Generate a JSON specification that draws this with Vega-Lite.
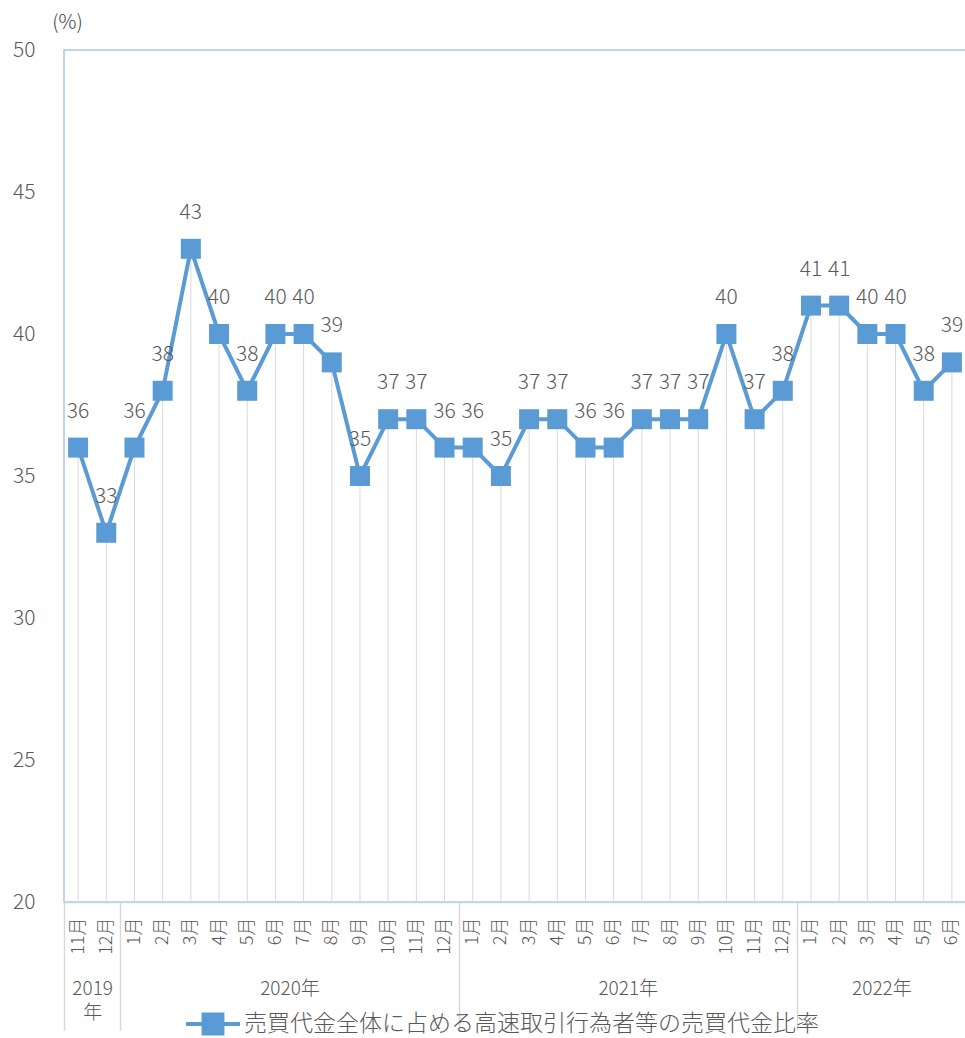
{
  "$schema": "https://vega.github.io/schema/vega-lite/v6.json",
  "width": 902,
  "height": 852,
  "autosize": "none",
  "padding": {"left": 64, "top": 50, "right": 0, "bottom": 136},
  "background": "white",
  "config": {
    "font": "Noto Sans CJK JP",
    "view": {"stroke": "#a9c8ea", "strokeWidth": 1.5},
    "axis": {"labelFontWeight": 300},
    "legend": {"labelFontWeight": 300}
  },
  "data": {
    "values": [
      {"i": 0, "period": "2019-11", "value": 36},
      {"i": 1, "period": "2019-12", "value": 33},
      {"i": 2, "period": "2020-01", "value": 36},
      {"i": 3, "period": "2020-02", "value": 38},
      {"i": 4, "period": "2020-03", "value": 43},
      {"i": 5, "period": "2020-04", "value": 40},
      {"i": 6, "period": "2020-05", "value": 38},
      {"i": 7, "period": "2020-06", "value": 40},
      {"i": 8, "period": "2020-07", "value": 40},
      {"i": 9, "period": "2020-08", "value": 39},
      {"i": 10, "period": "2020-09", "value": 35},
      {"i": 11, "period": "2020-10", "value": 37},
      {"i": 12, "period": "2020-11", "value": 37},
      {"i": 13, "period": "2020-12", "value": 36},
      {"i": 14, "period": "2021-01", "value": 36},
      {"i": 15, "period": "2021-02", "value": 35},
      {"i": 16, "period": "2021-03", "value": 37},
      {"i": 17, "period": "2021-04", "value": 37},
      {"i": 18, "period": "2021-05", "value": 36},
      {"i": 19, "period": "2021-06", "value": 36},
      {"i": 20, "period": "2021-07", "value": 37},
      {"i": 21, "period": "2021-08", "value": 37},
      {"i": 22, "period": "2021-09", "value": 37},
      {"i": 23, "period": "2021-10", "value": 40},
      {"i": 24, "period": "2021-11", "value": 37},
      {"i": 25, "period": "2021-12", "value": 38},
      {"i": 26, "period": "2022-01", "value": 41},
      {"i": 27, "period": "2022-02", "value": 41},
      {"i": 28, "period": "2022-03", "value": 40},
      {"i": 29, "period": "2022-04", "value": 40},
      {"i": 30, "period": "2022-05", "value": 38},
      {"i": 31, "period": "2022-06", "value": 39}
    ]
  },
  "encoding": {
    "y": {
      "field": "value",
      "type": "quantitative",
      "scale": {"domain": [20, 50], "nice": false, "zero": false},
      "axis": {
        "values": [20, 25, 30, 35, 40, 45, 50],
        "ticks": false,
        "domain": false,
        "grid": false,
        "labelFontSize": 21,
        "labelColor": "#595959",
        "labelPadding": 29,
        "title": "(%)",
        "titleAngle": 0,
        "titleX": 3,
        "titleY": -28,
        "titleAlign": "center",
        "titleBaseline": "middle",
        "titleFontSize": 20,
        "titleFontWeight": 300,
        "titleColor": "#404040"
      }
    }
  },
  "resolve": {"axis": {"x": "independent"}},
  "layer": [
    {
      "mark": {"type": "rule", "color": "#d9d9d9", "strokeWidth": 1},
      "encoding": {
        "x": {
          "field": "i",
          "type": "quantitative",
          "scale": {"domain": [-0.5, 31.5], "nice": false, "zero": false},
          "axis": {
            "orient": "bottom",
            "values": [-0.5, 1.5, 13.5, 25.5],
            "labels": false,
            "ticks": true,
            "tickSize": 128,
            "tickColor": "#d9d9d9",
            "tickWidth": 1.5,
            "domain": false,
            "grid": false,
            "title": null
          }
        },
        "y2": {"datum": 20}
      }
    },
    {
      "mark": {"type": "line", "strokeWidth": 4},
      "encoding": {
        "x": {
          "field": "i",
          "type": "quantitative",
          "scale": {"domain": [-0.5, 31.5], "nice": false, "zero": false},
          "axis": {
            "orient": "bottom",
            "values": [0, 1, 2, 3, 4, 5, 6, 7, 8, 9, 10, 11, 12, 13, 14, 15, 16, 17, 18, 19, 20, 21, 22, 23, 24, 25, 26, 27, 28, 29, 30, 31],
            "labelExpr": "((datum.value + 10) % 12 + 1) + '月'",
            "labelAngle": 270,
            "labelAlign": "right",
            "labelBaseline": "middle",
            "labelPadding": 15,
            "labelFlush": false,
            "labelOverlap": false,
            "labelFontSize": 18,
            "labelColor": "#595959",
            "ticks": false,
            "domain": true,
            "domainColor": "#c5d6ea",
            "domainWidth": 1.5,
            "grid": false,
            "title": null
          }
        },
        "color": {
          "datum": "売買代金全体に占める高速取引行為者等の売買代金比率",
          "type": "nominal",
          "scale": {"range": ["#5b9bd5"]},
          "legend": {
            "orient": "none",
            "legendX": 120,
            "legendY": 945,
            "title": null,
            "symbolType": "M-1,0H1M-0.35,-0.35H0.35V0.35H-0.35Z",
            "symbolSize": 2900,
            "labelFontSize": 23,
            "labelColor": "#595959",
            "labelLimit": 0,
            "labelOffset": 2,
            "encode": {
              "symbols": {
                "update": {
                  "fill": {"value": "#5b9bd5"},
                  "stroke": {"value": "#5b9bd5"},
                  "strokeWidth": {"value": 4},
                  "opacity": {"value": 1}
                }
              }
            }
          }
        }
      }
    },
    {
      "mark": {"type": "point", "shape": "square", "filled": true, "size": 400, "color": "#5b9bd5", "opacity": 1},
      "encoding": {
        "x": {
          "field": "i",
          "type": "quantitative",
          "scale": {"domain": [-0.5, 31.5], "nice": false, "zero": false},
          "axis": {
            "orient": "bottom",
            "values": [0.5, 7.5, 19.5, 28.5],
            "labelExpr": "datum.value < 1 ? ['2019', '年'] : datum.value < 10 ? '2020年' : datum.value < 20 ? '2021年' : '2022年'",
            "labelAngle": 0,
            "labelAlign": "center",
            "labelBaseline": "top",
            "labelPadding": 77,
            "labelFlush": false,
            "labelOverlap": false,
            "labelFontSize": 19,
            "labelLineHeight": 24,
            "labelColor": "#595959",
            "ticks": false,
            "domain": false,
            "grid": false,
            "title": null
          }
        }
      }
    },
    {
      "mark": {"type": "text", "dy": -36, "fontSize": 21, "fontWeight": 300, "color": "#595959", "baseline": "middle", "align": "center"},
      "encoding": {
        "x": {
          "field": "i",
          "type": "quantitative",
          "scale": {"domain": [-0.5, 31.5], "nice": false, "zero": false},
          "axis": null
        },
        "text": {"field": "value", "type": "quantitative"}
      }
    }
  ]
}
